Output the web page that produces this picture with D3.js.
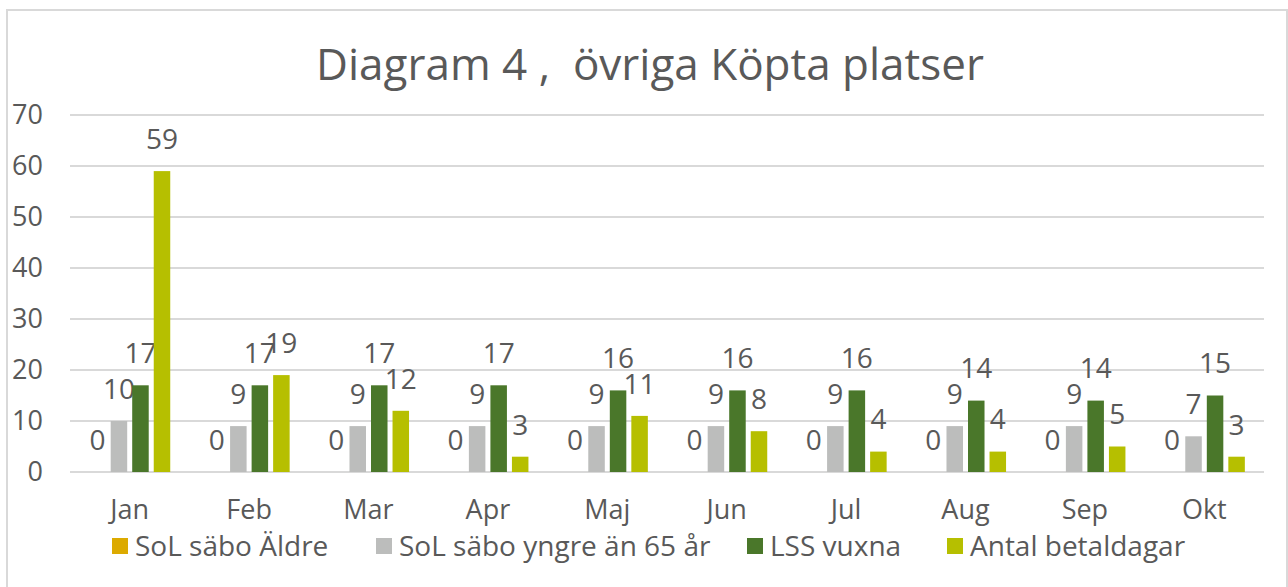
<!DOCTYPE html>
<html>
<head>
<meta charset="utf-8">
<script src="https://cdn.jsdelivr.net/npm/d3@7"></script>
<style>
  body { margin: 0; background: #fff; }
  svg text { font-family: "Open Sans", "Noto Sans", sans-serif; fill: #595959; }
</style>
</head>
<body>
<svg id="chart" width="1288" height="587"></svg>
<script>
var months = ["Jan", "Feb", "Mar", "Apr", "Maj", "Jun", "Jul", "Aug", "Sep", "Okt"];
var seriesNames = ["SoL säbo Äldre", "SoL säbo yngre än 65 år", "LSS vuxna", "Antal betaldagar"];
var seriesColors = ["#dcaa00", "#bcbdbc", "#4a772a", "#b6bf00"];
var solAldre = [0, 0, 0, 0, 0, 0, 0, 0, 0, 0];
var solYngre = [10, 9, 9, 9, 9, 9, 9, 9, 9, 7];
var lssVuxna = [17, 17, 17, 17, 16, 16, 16, 14, 14, 15];
var betaldagar = [59, 19, 12, 3, 11, 8, 4, 4, 5, 3];
var yTicks = [0, 10, 20, 30, 40, 50, 60, 70];

var allSeries = [solAldre, solYngre, lssVuxna, betaldagar];

var svg = d3.select("#chart");

// chart frame (bottom edge runs off the picture)
svg.append("rect")
    .attr("x", 7).attr("y", 10)
    .attr("width", 1280).attr("height", 600)
    .attr("fill", "#fff")
    .attr("stroke", "#d9d9d9")
    .attr("stroke-width", 2);

svg.append("text")
    .attr("x", 650).attr("y", 80)
    .attr("text-anchor", "middle")
    .attr("xml:space", "preserve")
    .style("white-space", "pre")
    .style("font-size", "44px")
    .text("Diagram 4 ,  övriga Köpta platser");

var x = d3.scaleBand().domain(months).range([70, 1264]);
var xs = d3.scaleBand().domain(d3.range(4)).range([0, x.bandwidth()])
    .paddingInner(0.233).paddingOuter(0.89);
var y = d3.scaleLinear().domain([0, 70]).range([472, 115]);

// gridlines
svg.append("g").selectAll("line")
    .data(yTicks)
    .enter().append("line")
    .attr("x1", 70).attr("x2", 1264)
    .attr("y1", function(d) { return y(d); })
    .attr("y2", function(d) { return y(d); })
    .attr("stroke", "#d9d9d9")
    .attr("stroke-width", 2);

svg.append("g").selectAll("text")
    .data(yTicks)
    .enter().append("text")
    .attr("x", 43)
    .attr("y", function(d) { return y(d); })
    .attr("dy", "0.35em")
    .attr("text-anchor", "end")
    .style("font-size", "27px")
    .text(function(d) { return d; });

svg.append("g").selectAll("text")
    .data(months)
    .enter().append("text")
    .attr("x", function(d) { return x(d) + x.bandwidth() / 2; })
    .attr("y", 519)
    .attr("text-anchor", "middle")
    .style("font-size", "27px")
    .text(function(d) { return d; });

var groups = svg.append("g").selectAll("g")
    .data(allSeries)
    .enter().append("g");

groups.selectAll("rect")
    .data(function(d, si) { return d.map(function(v, i) { return { s: si, m: months[i], v: v }; }); })
    .enter().append("rect")
    .attr("x", function(d) { return x(d.m) + xs(d.s); })
    .attr("width", xs.bandwidth())
    .attr("y", function(d) { return y(d.v); })
    .attr("height", function(d) { return y(0) - y(d.v); })
    .attr("fill", function(d) { return seriesColors[d.s]; });

groups.selectAll("text")
    .data(function(d, si) { return d.map(function(v, i) { return { s: si, m: months[i], v: v }; }); })
    .enter().append("text")
    .attr("x", function(d) { return x(d.m) + xs(d.s) + xs.bandwidth() / 2; })
    .attr("y", function(d) { return y(d.v) - 32; })
    .attr("dy", "0.35em")
    .attr("text-anchor", "middle")
    .style("font-size", "28px")
    .text(function(d) { return d.v; });

// legend
var legendX = [112, 376, 747, 947];
var legend = svg.append("g").selectAll("g")
    .data(seriesNames)
    .enter().append("g")
    .attr("transform", function(d, i) { return "translate(" + legendX[i] + ",538)"; });

legend.append("rect")
    .attr("width", 16).attr("height", 16)
    .attr("fill", function(d, i) { return seriesColors[i]; });

legend.append("text")
    .attr("x", 23).attr("y", 8)
    .attr("dy", "0.35em")
    .style("font-size", "28px")
    .text(function(d) { return d; });
</script>
</body>
</html>
